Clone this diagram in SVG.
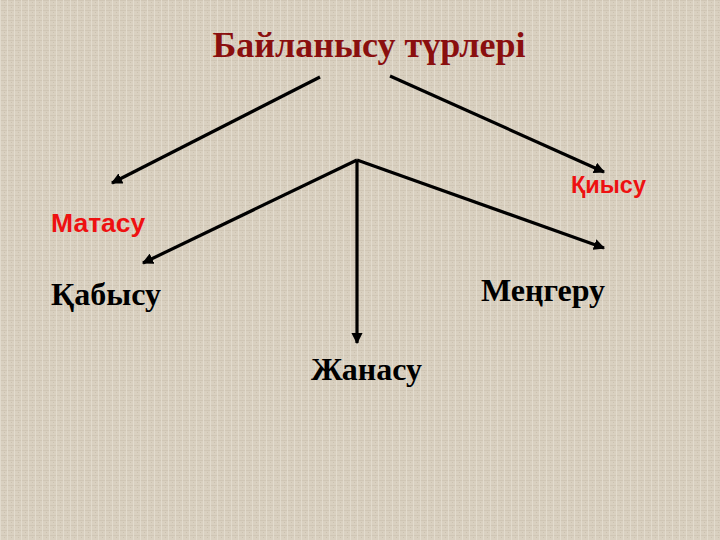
<svg xmlns="http://www.w3.org/2000/svg" width="720" height="540" viewBox="0 0 720 540">
<defs>
<pattern id="tex" width="7" height="5" patternUnits="userSpaceOnUse">
<rect width="7" height="5" fill="#d9d0c0"/>
<rect x="0" y="0" width="7" height="1" fill="#d0c6b5"/>
<rect x="0" y="0" width="1" height="5" fill="#e2dbcd"/>
<rect x="4" y="2" width="1" height="1" fill="#cbc1af"/>
</pattern>
<marker id="arr" viewBox="0 0 10 10" refX="9" refY="5" markerWidth="3.5" markerHeight="3.5" orient="auto" markerUnits="strokeWidth">
<path d="M0,0 L10,5 L0,10 z" fill="#000"/>
</marker>
<style>
.c{stroke:#000;stroke-width:3.2;fill:none;marker-end:url(#arr)}
.lbl{font-family:"Liberation Serif","Times New Roman",serif;font-weight:bold;font-size:32px;fill:#000}
.red{font-family:"Liberation Sans",Arial,sans-serif;font-weight:bold;fill:#ee1111}
</style>
</defs>
<rect width="720" height="540" fill="url(#tex)"/>
<g id="title"><text x="369" y="57" text-anchor="middle" font-family="Liberation Serif, Times New Roman, serif" font-weight="bold" font-size="36" fill="#8a0f0f">Байланысу түрлері</text></g>
<g id="connectors">
<line class="c" x1="320" y1="77" x2="112" y2="183"/>
<line class="c" x1="390" y1="76" x2="604" y2="172"/>
<line x1="357" y1="160" x2="143" y2="263" class="c"/>
<line x1="357" y1="160" x2="604" y2="248" class="c"/>
<line x1="357" y1="160" x2="357" y2="343" class="c"/>
</g>
<g id="matasu"><text x="51" y="232" class="red" font-size="26.5">Матасу</text></g>
<g id="kiysu"><text x="571" y="193" class="red" font-size="23.5">Қиысу</text></g>
<g id="kabysu"><text x="51" y="305" class="lbl" font-size="31">Қабысу</text></g>
<g id="menggeru"><text x="481" y="301" class="lbl">Меңгеру</text></g>
<g id="zhanasu"><text x="311" y="380" class="lbl">Жанасу</text></g>
</svg>
